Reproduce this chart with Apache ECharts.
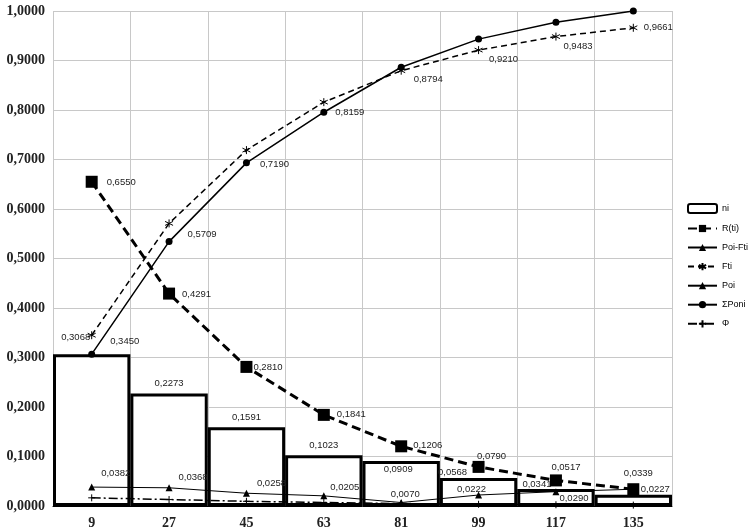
<!DOCTYPE html>
<html>
<head>
<meta charset="utf-8">
<script src="https://cdn.jsdelivr.net/npm/echarts@6/dist/echarts.min.js"></script>
<style>
html,body{margin:0;padding:0;background:#fff;}
#c{width:749px;height:530px;}
</style>
</head>
<body>
<div id="c"></div>
<script>
const categories = ['9','27','45','63','81','99','117','135'];
const ni      = [0.3068,0.2273,0.1591,0.1023,0.0909,0.0568,0.0341,0.0227];
const rti     = [0.6550,0.4291,0.2810,0.1841,0.1206,0.0790,0.0517,0.0339];
const poiFti  = [0.0382,0.0368,0.0258,0.0205,0.0070,0.0222,0.0290,0.0339];
const fti     = [0.3450,0.5709,0.7190,0.8159,0.8794,0.9210,0.9483,0.9661];
const poi     = [];
const sumPoni = [0.3068,0.5341,0.6932,0.7955,0.8864,0.9432,0.9773,1.0000];
const phi     = [0.0165,0.0130,0.0095,0.0070,0.0050,0.0035,0.0025,0.0018];
const yTicks  = [0,0.1,0.2,0.3,0.4,0.5,0.6,0.7,0.8,0.9,1.0];

// label placement (style only)
const niLab = [
  {position:'top', offset:[-16,-7]},
  {position:'top', offset:[0,0]},
  {position:'top', offset:[0,0]},
  {position:'top', offset:[0,0]},
  {position:'insideTop', offset:[-3,-2]},
  {position:'top', offset:[-26,4]},
  {position:'top', offset:[-19,5]},
  {position:'top', offset:[22,5]}
];
const rtiLab = [
  {position:'right', offset:[4,1]},
  {position:'right', offset:[2,1]},
  {position:'right', offset:[-4,0]},
  {position:'right', offset:[2,0]},
  {position:'right', offset:[1,-1]},
  {position:'top', offset:[13,5]},
  {position:'top', offset:[10,3]},
  {position:'top', offset:[5,0]}
];
const ftiLab = [
  {position:'right', offset:[9,6]},
  {position:'right', offset:[9,11]},
  {position:'right', offset:[4,14]},
  {position:'right', offset:[2,10]},
  {position:'right', offset:[3,9]},
  {position:'right', offset:[1,9]},
  {position:'right', offset:[-2,10]},
  {position:'right', offset:[1,0]}
];
const pfLab = [
  {position:'right', offset:[1,-14]},
  {position:'right', offset:[1,-10]},
  {position:'right', offset:[2,-10]},
  {position:'right', offset:[-2,-8]},
  {position:'top', offset:[4,5]},
  {position:'top', offset:[-7,8]},
  {position:'right', offset:[-5,7]},
  {show:false}
];

const fmt = v => Number(v).toFixed(4).replace('.', ',');
const labFont = {fontFamily:'Liberation Sans', fontSize:9.5, color:'#222'};
function withLabels(vals, labs){
  return vals.map((v,i)=>({value:v, label:Object.assign({}, labs[i])}));
}
const lbl = Object.assign({show:true, formatter:p=>fmt(p.value)}, labFont);

const asterisk = 'path://M0,-1L0,1M-0.87,-0.5L0.87,0.5M-0.87,0.5L0.87,-0.5';
const plus = 'path://M0,-1L0,1M-1,0L1,0';

const chart = echarts.init(document.getElementById('c'));
chart.setOption({
  animation:false,
  backgroundColor:'#fff',
  grid:{left:53, right:77, top:11, bottom:24, containLabel:false},
  legend:{
    orient:'vertical', left:687, top:203, padding:0, itemWidth:29, itemHeight:9, itemGap:10,
    textStyle:{fontFamily:'Liberation Sans', fontSize:9, color:'#000', overflow:'none'},
    data:['ni','R(ti)','Poi-Fti','Fti','Poi','ΣPoni','Φ']
  },
  xAxis:{
    type:'category', data:categories, boundaryGap:true,
    axisLine:{show:true, lineStyle:{color:'#000', width:1}},
    axisTick:{show:false},
    axisLabel:{margin:10, fontFamily:'Liberation Serif', fontSize:14, fontWeight:'bold', color:'#222'},
    splitLine:{show:true, lineStyle:{color:'#c8c8c8', width:1}}
  },
  yAxis:{
    type:'value', min:0, max:1, interval:0.1,
    axisLine:{show:false}, axisTick:{show:false},
    axisLabel:{margin:8, fontFamily:'Liberation Serif', fontSize:14, fontWeight:'bold', color:'#222',
      formatter:v=>fmt(yTicks.reduce((a,b)=>Math.abs(b-v)<Math.abs(a-v)?b:a))},
    splitLine:{show:true, lineStyle:{color:'#c8c8c8', width:1}}
  },
  series:[
    {
      name:'ni', type:'bar', barCategoryGap:'0%', z:1,
      itemStyle:{color:'#fff', borderColor:'#000', borderWidth:3},
      label:lbl,
      data:withLabels(ni, niLab)
    },
    {
      name:'R(ti)', type:'line', z:5,
      symbol:'rect', symbolSize:12,
      itemStyle:{color:'#000'},
      lineStyle:{color:'#000', width:3, type:[9,5]},
      label:lbl,
      data:withLabels(rti, rtiLab)
    },
    {
      name:'Poi-Fti', type:'line', z:4,
      symbol:'triangle', symbolSize:7,
      itemStyle:{color:'#000'},
      lineStyle:{color:'#000', width:1},
      label:lbl,
      data:withLabels(poiFti, pfLab)
    },
    {
      name:'Fti', type:'line', z:4,
      symbol:asterisk, symbolSize:8,
      itemStyle:{color:'#000', borderColor:'#000', borderWidth:1},
      lineStyle:{color:'#000', width:1.5, type:[6,4]},
      label:lbl,
      data:withLabels(fti, ftiLab)
    },
    {
      name:'Poi', type:'line', z:4,
      symbol:'triangle', symbolSize:7,
      itemStyle:{color:'#000'},
      lineStyle:{color:'#000', width:1},
      data:poi
    },
    {
      name:'ΣPoni', type:'line', z:4,
      symbol:'circle', symbolSize:7,
      itemStyle:{color:'#000'},
      lineStyle:{color:'#000', width:1.5},
      data:sumPoni
    },
    {
      name:'Φ', type:'line', z:3,
      symbol:plus, symbolSize:7,
      itemStyle:{color:'#000', borderColor:'#000', borderWidth:1},
      lineStyle:{color:'#000', width:1.5, type:[9,3,2,3]},
      data:phi
    }
  ]
});
</script>
</body>
</html>
